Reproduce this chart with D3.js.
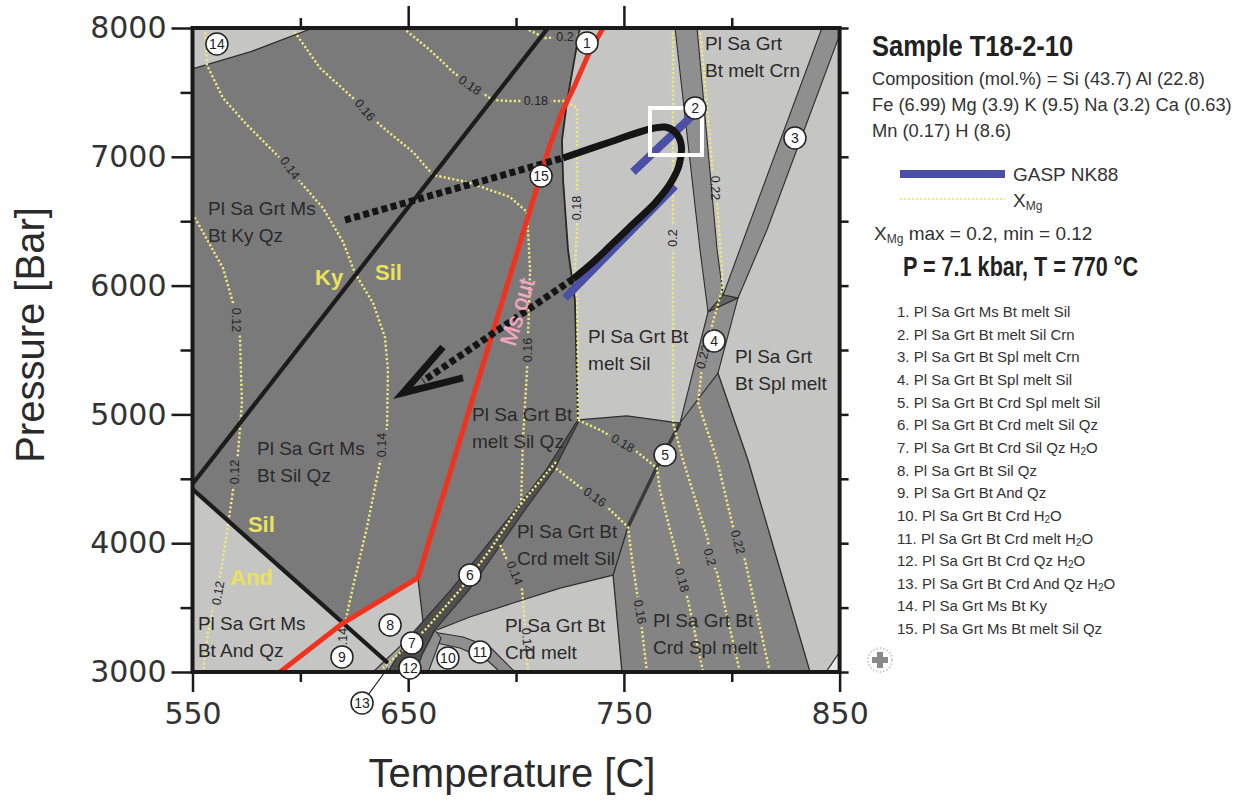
<!DOCTYPE html>
<html>
<head>
<meta charset="utf-8">
<script src="https://cdn.jsdelivr.net/npm/d3@7/dist/d3.min.js"></script>
<style>
  body { margin: 0; background: #fff; }
  svg { display: block; }
</style>
</head>
<body>
<svg id="chart" width="1239" height="805"></svg>
<script>
// ---- axes ----
const tempDomain = [550, 850];
const presDomain = [3000, 8000];
const tempMajor = [550, 650, 750, 850];
const tempMinor = [600, 700, 800];
const presMajor = [3000, 4000, 5000, 6000, 7000, 8000];
const presMinor = [3500, 4500, 5500, 6500, 7500];

// ---- stability fields, [T °C, P bar] ----
const fieldMsBtKyCorner = [[550,8000],[550,7682],[576.7,7814],[605.9,8000]];
const fieldBtMeltSil = [[729.6,8000],[723.6,7425],[721.3,7130],[721.8,6820],[724.1,6276],[727.3,5888],[728.7,4957],[751.4,4988],[776,4933],[789,5795],[785.3,6276],[773.7,8000]];
const fieldBtMeltCrn = [[783.9,8000],[793.2,6276],[796,5927],[807.1,6432],[841.8,8000]];
const fieldBtSplMelt = [[850,7946],[816.3,6432],[802.9,5904],[793.6,5321],[807.5,4646],[836.3,3000],[850,3000]];
const fieldCrdSplMelt = [[776,4933],[793.6,5321],[807.5,4646],[836.3,3000],[749.1,3000],[745,3753],[751.9,4126],[765.3,4592]];
const fieldCornerHighT = [[843.7,3000],[850,3155],[850,3000]];
const fieldMsBtAndQz = [[550,4420],[619.8,3380],[654.5,3730],[656.9,3388],[653.2,3326],[645.3,3132],[640.6,3000],[550,3000]];
const fieldCrdMelt = [[663.3,3326],[678.6,3427],[697.2,3528],[720.4,3652],[745,3753],[749.1,3000],[699.5,3000],[687.9,3194],[675.4,3272],[661.5,3311]];
const fieldCrdH2O = [[665.2,3264],[674,3186],[686.5,3093],[692.6,3000],[659.3,3000]];

// narrow fields
const band2 = [[773.7,8000],[783.9,8000],[793.2,6276],[796,5927],[789,5795],[785.3,6276]];
const band3 = [[841.8,8000],[850,8000],[850,7946],[816.3,6432],[802.9,5904],[796,5927],[807.1,6432]];
const bandJunction = [[789,5795],[796,5927],[802.9,5904]];
const band4 = [[789,5795],[802.9,5904],[793.6,5321],[776,4933]];
const band6 = [[728.3,4949],[713.9,4568],[699.5,4258],[684.7,3947],[669.8,3637],[653.2,3326],[645.3,3132],[640.6,3000],
               [653.6,3000],[656.4,3132],[662.4,3326],[678.2,3637],[691.2,3947],[704.1,4258],[717.6,4568],[729.2,4949]];
const band11 = [[661.5,3311],[675.4,3272],[687.9,3194],[699.5,3000],[692.6,3000],[686.5,3093],[674,3186],[661,3233]];
const band12 = [[662.4,3326],[665.2,3264],[659.3,3000],[653.6,3000],[656.4,3132]];
const band13 = [[633.7,3000],[650.8,3272],[645.3,3132],[640.6,3000]];

// field boundaries
const edgeKyCorner = [[550,7682],[576.7,7814],[605.9,8000]];
const edgeMeltSilWest = [[729.6,8000],[723.6,7425],[721.3,7130],[721.8,6820],[724.1,6276],[727.3,5888],[728.7,4957]];
const edgeMeltSilBase = [[728.7,4957],[751.4,4988],[776,4933]];
const edgeSplCrd = [[793.6,5321],[807.5,4646],[836.3,3000]];
const edgeBand5 = [[776,4933],[765.3,4592],[751.9,4126]];
const edgeCrdSplWest = [[751.9,4126],[745,3753],[749.1,3000]];
const edgeCrdMeltTop = [[663.3,3326],[678.6,3427],[697.2,3528],[720.4,3652],[745,3753]];
const edgeField8 = [[654.5,3730],[656.9,3388]];
const edgeCorner = [[843.7,3000],[850,3155]];

// aluminosilicate reactions and muscovite-out
const kySil = [[550,4460],[714.8,8000]];
const andSil = [[550,4420],[640.6,3070]];
const msOut = [[590.6,3000],[619.8,3380],[654.5,3730],[715.7,7092],[721.3,7348],[727.3,7557],[733.4,7790],[740.3,8000]];

// GASP (NK88) barometer
const gaspUpper = [[754.2,6882],[783,7340]];
const gaspLower = [[722.7,5904],[773.7,6773]];

// P–T path
const pathPrograde = [[620.7,6509],[721.8,6991]];
const pathPeak = [[721.8,6991],[743.6,7115],[762.1,7216],[769.1,7231],[773.7,7193],[776.5,7100],[775.6,6936],[771.4,6789],[764.4,6641],[754.2,6478],[743.6,6307],[734.3,6160],[726.4,6051]];
const pathRetrograde = [[726.4,6051],[656.9,5259]];
const pathArrow = [[666.1,5523],[647.6,5166],[675.4,5283]];
const peakBox = [[762.1,7379],[786.2,7014]];

// garnet XMg isopleths
const iso012 = [[550,6560],[564.1,6137],[568.8,5865],[572,5601],[572.9,5089],[571.1,4700],[568.8,4413],[564.1,3870],[557.2,3303],[554.9,3000]];
const iso014 = [[555.8,8000],[556.7,7713],[564.1,7457],[575.3,7247],[589.2,7014],[601.2,6781],[610.5,6602],[619.8,6339],[625.3,6098],[633.7,5865],[639.2,5601],[640.6,5345],[640.2,4902],[636.9,4623],[630.9,4126],[624.4,3660],[620.7,3380],[618.4,3000]];
const iso016 = [[596.1,8000],[609.1,7689],[624.4,7457],[636.9,7247],[652.2,7037],[661.5,6859],[677.3,6804],[697.2,6688],[705.1,6571],[706.5,6121],[705.5,5578],[705.1,5345],[703.2,4801],[702.3,4297]];
const iso016Crd = [[718.5,4580],[729.6,4436],[742.2,4281],[751.9,4126],[753.8,3870],[756.1,3613],[758.4,3326],[760.7,3000]];
const isoBand6 = [[718.5,4630],[701.8,4297],[687.9,3947],[674,3637],[657.8,3326],[638.3,3031]];
const iso014Crd = [[692.6,3986],[695.8,3870],[702.8,3637],[704.1,3365],[705.5,3000]];
const iso018 = [[647.6,8000],[660.1,7829],[670.8,7658],[678.6,7557],[689.3,7441],[697.2,7433],[709.2,7433],[722.7,7433],[728.3,7379],[728.3,6602],[728.3,6447],[727.3,6106],[728.3,5989],[728.7,4957]];
const iso018Low = [[728.7,4957],[738.9,4879],[749.6,4778],[756.1,4708],[765.3,4584],[766.7,4413],[771.4,4103],[776,3815],[777,3714],[779.7,3559],[786.7,3000]];
const iso020Top = [[704.1,8000],[713.4,7922],[722.7,7930],[732,7961]];
const iso020 = [[772.8,8000],[772.8,6370],[772.8,4933],[777.4,4646],[789,4025],[789.9,3893],[793.2,3769],[803.8,3000]];
const iso022 = [[785.3,8000],[791.3,6859],[792.2,6758],[793.2,6649],[795.5,6106],[795.5,5966],[786.7,5446],[784.4,5089],[793.2,4646],[800.6,4126],[802.9,4009],[806.1,3870],[817.7,3000]];

const isoLabels = [
  [570.2,5733,"0.12"],[569.7,4553,"0.12"],[561.8,3613,"0.12"],
  [595.2,6913,"0.14"],[637.7,4762,"0.14"],[619.4,3248,"0.14"],
  [630.0,7363,"0.16"],[705.5,5500,"0.16"],[736.6,4359,"0.16"],[757.5,3466,"0.16"],
  [699.5,3769,"0.14"],[705.1,3248,"0.14"],
  [678.6,7557,"0.18"],[709.2,7433,"0.18"],[728.3,6602,"0.18"],[749.6,4778,"0.18"],[777.0,3714,"0.18"],
  [722.7,7930,"0.2"],[772.8,6370,"0.2"],[789.9,3893,"0.2"],
  [792.2,6758,"0.22"],[786.7,5446,"0.22"],[802.9,4009,"0.22"]
];

// assemblage labels: first line, second line, T, P
const fieldNames = [
  ["Pl Sa Grt Ms","Bt Ky Qz",557.2,6548],
  ["Pl Sa Grt Ms","Bt Sil Qz",579.9,4685],
  ["Pl Sa Grt Ms","Bt And Qz",552.5,3326],
  ["Pl Sa Grt Bt","melt Sil Qz",679.6,4949],
  ["Pl Sa Grt Bt","melt Sil",733.4,5554],
  ["Pl Sa Grt","Bt melt Crn",787.6,7829],
  ["Pl Sa Grt","Bt Spl melt",801.5,5399],
  ["Pl Sa Grt Bt","Crd melt Sil",700.4,4040],
  ["Pl Sa Grt Bt","Crd melt",694.9,3311],
  ["Pl Sa Grt Bt","Crd Spl melt",763.5,3349]
];
const polymorphNames = [["Ky",606.8,6005],["Sil",634.6,6043],["Sil",575.7,4087],["And",567.4,3675]];
const msOutName = [700.5,5795,"Ms out"];

// numbered small fields
const smallFields = [[1,732.9,7884],[2,783,7379],[3,829.3,7146],[4,791.8,5570],[5,769.1,4685],[6,678.6,3753],[7,651.7,3225],[8,641.6,3365],[9,619.3,3117],[10,668.4,3109],[11,683.3,3155],[12,650.8,3031],[13,628.6,2759],[14,561.3,7876],[15,711.6,6851]];
const leader13 = [[628.6,2759],[640.6,3031]];

const assemblageList = [
  "Pl Sa Grt Ms Bt melt Sil",
  "Pl Sa Grt Bt melt Sil Crn",
  "Pl Sa Grt Bt Spl melt Crn",
  "Pl Sa Grt Bt Spl melt Sil",
  "Pl Sa Grt Bt Crd Spl melt Sil",
  "Pl Sa Grt Bt Crd melt Sil Qz",
  "Pl Sa Grt Bt Crd Sil Qz H2O",
  "Pl Sa Grt Bt Sil Qz",
  "Pl Sa Grt Bt And Qz",
  "Pl Sa Grt Bt Crd H2O",
  "Pl Sa Grt Bt Crd melt H2O",
  "Pl Sa Grt Bt Crd Qz H2O",
  "Pl Sa Grt Bt Crd And Qz H2O",
  "Pl Sa Grt Ms Bt Ky",
  "Pl Sa Grt Ms Bt melt Sil Qz"
];
const compositionLines = [
  "Composition (mol.%) = Si (43.7) Al (22.8)",
  "Fe (6.99) Mg (3.9) K (9.5) Na (3.2) Ca (0.63)",
  "Mn (0.17) H (8.6)"
];

// ---- drawing ----
const svg = d3.select("#chart");
const x = d3.scaleLinear().domain(tempDomain).range([192.5, 839.6]);
const y = d3.scaleLinear().domain(presDomain).range([672, 28]);
const line = d3.line().x(d => x(d[0])).y(d => y(d[1]));
const poly = pts => line(pts) + "Z";

const DARK = "#7a7a7a", LIGHT = "#c5c5c3", BAND = "#8f8f8f", DEEP = "#4f4f4f", CRDSPL = "#848484";
const YELLOW = "#f1e97e", EDGE = "#2e2e2e";
const SANS = "'Liberation Sans', Arial, sans-serif";

const defs = svg.append("defs");
defs.append("clipPath").attr("id", "plotClip")
  .append("rect")
  .attr("x", x(550)).attr("y", y(8000))
  .attr("width", x(850) - x(550)).attr("height", y(3000) - y(8000));
// isopleth lines are cut where their value labels sit
const isoMask = defs.append("mask").attr("id", "isoMask")
  .attr("maskUnits", "userSpaceOnUse").attr("x", 0).attr("y", 0)
  .attr("width", 1239).attr("height", 805);
isoMask.append("rect").attr("width", 1239).attr("height", 805).attr("fill", "#fff");

const plot = svg.append("g").attr("clip-path", "url(#plotClip)");

plot.append("rect")
  .attr("x", x(550)).attr("y", y(8000))
  .attr("width", x(850) - x(550)).attr("height", y(3000) - y(8000))
  .attr("fill", DARK);

const fills = [
  [fieldMsBtKyCorner, LIGHT], [fieldBtMeltSil, LIGHT], [fieldBtMeltCrn, LIGHT],
  [fieldBtSplMelt, LIGHT], [fieldCrdSplMelt, CRDSPL], [fieldCornerHighT, "#e6e6e6"],
  [fieldMsBtAndQz, LIGHT], [fieldCrdMelt, LIGHT], [fieldCrdH2O, LIGHT]
];
plot.selectAll("path.field").data(fills).join("path")
  .attr("class", "field").attr("d", d => poly(d[0])).attr("fill", d => d[1]);

const bands = [
  [band2, BAND], [band3, BAND], [bandJunction, "#626262"], [band4, BAND],
  [band6, DEEP], [band11, BAND], [band12, BAND], [band13, "#9f9f9f"]
];
plot.selectAll("path.band").data(bands).join("path")
  .attr("class", "band").attr("d", d => poly(d[0])).attr("fill", d => d[1])
  .attr("stroke", EDGE).attr("stroke-width", 1.1).attr("stroke-linejoin", "round");

const edges = [edgeKyCorner, edgeMeltSilBase, edgeSplCrd, edgeCrdSplWest, edgeCrdMeltTop, edgeField8, edgeCorner];
plot.selectAll("path.edge").data(edges).join("path")
  .attr("class", "edge").attr("d", line).attr("fill", "none")
  .attr("stroke", EDGE).attr("stroke-width", 1.3);
plot.append("path").attr("d", line(edgeMeltSilWest)).attr("fill", "none")
  .attr("stroke", "#262626").attr("stroke-width", 1.8);
plot.append("path").attr("d", line(edgeBand5)).attr("fill", "none")
  .attr("stroke", "#3a3a3a").attr("stroke-width", 3.5);

// isopleths
const isos = [iso012, iso014, iso016, iso016Crd, isoBand6, iso014Crd, iso018, iso018Low, iso020Top, iso020, iso022];
plot.append("g").attr("mask", "url(#isoMask)")
  .selectAll("path.iso").data(isos).join("path")
  .attr("class", "iso").attr("d", line).attr("fill", "none")
  .attr("stroke", YELLOW).attr("stroke-width", 2.4).attr("stroke-dasharray", "2.2,2.2");

const labelTilt = [90,-90,-80, 55,-90,-90, 50,-90,35,80, 68,85, 35,0,-90,30,75, 0,-90,75, 90,-75,75];
const isoText = plot.selectAll("text.iso").data(isoLabels).join("text")
  .attr("class", "iso")
  .attr("transform", (d, i) => `translate(${x(d[0])},${y(d[1])}) rotate(${labelTilt[i]})`)
  .attr("text-anchor", "middle").attr("dy", "0.35em")
  .attr("font-family", SANS).attr("font-size", 12.5).attr("fill", "#242424")
  .text(d => d[2]);
isoText.each(function() {
  const b = this.getBBox();
  isoMask.append("rect")
    .attr("x", b.x - 3).attr("y", b.y - 1).attr("width", b.width + 6).attr("height", b.height + 2)
    .attr("transform", d3.select(this).attr("transform")).attr("fill", "#000");
});

// reaction lines
plot.append("path").attr("d", line(kySil)).attr("fill", "none").attr("stroke", "#1c1c1c").attr("stroke-width", 4.2);
plot.append("path").attr("d", line(andSil)).attr("fill", "none").attr("stroke", "#1c1c1c").attr("stroke-width", 4.2);
plot.append("path").attr("d", line(msOut)).attr("fill", "none").attr("stroke", "#f0321f")
  .attr("stroke-width", 5).attr("stroke-linejoin", "round");

// GASP
[gaspUpper, gaspLower].forEach(g => plot.append("path").attr("d", line(g))
  .attr("fill", "none").attr("stroke", "#4b4fa6").attr("stroke-width", 8));

// P–T path
plot.append("path").attr("d", line(pathPrograde)).attr("fill", "none")
  .attr("stroke", "#151515").attr("stroke-width", 7).attr("stroke-dasharray", "6,3.5");
plot.append("path").attr("d", d3.line().x(d => x(d[0])).y(d => y(d[1])).curve(d3.curveCatmullRom)(pathPeak))
  .attr("fill", "none").attr("stroke", "#151515").attr("stroke-width", 7).attr("stroke-linejoin", "round");
plot.append("path").attr("d", line(pathRetrograde)).attr("fill", "none")
  .attr("stroke", "#151515").attr("stroke-width", 7).attr("stroke-dasharray", "6,3.5");
plot.append("path").attr("d", line(pathArrow)).attr("fill", "none")
  .attr("stroke", "#151515").attr("stroke-width", 7).attr("stroke-linejoin", "miter");

plot.append("rect")
  .attr("x", x(peakBox[0][0])).attr("y", y(peakBox[0][1]))
  .attr("width", x(peakBox[1][0]) - x(peakBox[0][0]))
  .attr("height", y(peakBox[1][1]) - y(peakBox[0][1]))
  .attr("fill", "none").attr("stroke", "#ffffff").attr("stroke-width", 4);

// assemblage labels
const fl = plot.selectAll("text.fname").data(fieldNames).join("text")
  .attr("class", "fname")
  .attr("x", d => x(d[2])).attr("y", d => y(d[3]))
  .attr("font-family", SANS).attr("font-size", 19).attr("fill", "#2a2a2a");
fl.append("tspan").text(d => d[0]);
fl.append("tspan").attr("x", d => x(d[2])).attr("dy", 27).text(d => d[1]);

plot.selectAll("text.poly").data(polymorphNames).join("text")
  .attr("class", "poly").attr("x", d => x(d[1])).attr("y", d => y(d[2]))
  .attr("font-family", SANS).attr("font-weight", "bold").attr("font-size", 22)
  .attr("fill", "#e9e35c").text(d => d[0]);

plot.append("text")
  .attr("transform", `translate(${x(msOutName[0])},${y(msOutName[1])}) rotate(-73)`)
  .attr("text-anchor", "middle").attr("dy", "0.35em")
  .attr("font-family", SANS).attr("font-size", 23).attr("fill", "#f6b0c5")
  .attr("stroke", "#e79ab0").attr("stroke-width", 0.6)
  .text(msOutName[2]);

// frame
svg.append("rect")
  .attr("x", x(550)).attr("y", y(8000))
  .attr("width", x(850) - x(550)).attr("height", y(3000) - y(8000))
  .attr("fill", "none").attr("stroke", "#1a1a1a").attr("stroke-width", 4);

// axes
function styleAxis(g) {
  g.select(".domain").remove();
  g.selectAll(".tick line").attr("stroke", "#1a1a1a").attr("stroke-width", 2.5);
  g.selectAll(".tick text").attr("font-family", "'DejaVu Sans', sans-serif")
    .attr("font-size", 30).attr("fill", "#333");
}
svg.append("g").attr("transform", `translate(${x(550)},0)`)
  .call(d3.axisLeft(y).tickValues(presMajor).tickSize(21).tickPadding(5).tickFormat(d3.format("d")))
  .call(styleAxis);
svg.append("g").attr("transform", `translate(${x(550)},0)`)
  .call(d3.axisLeft(y).tickValues(presMinor).tickSize(12).tickFormat(""))
  .call(styleAxis);
svg.append("g").attr("transform", `translate(0,${y(3000)})`)
  .call(d3.axisBottom(x).tickValues(tempMajor).tickSize(20).tickPadding(11).tickFormat(d3.format("d")))
  .call(styleAxis);
svg.append("g").attr("transform", `translate(0,${y(3000)})`)
  .call(d3.axisBottom(x).tickValues(tempMinor).tickSize(10).tickFormat(""))
  .call(styleAxis);
svg.append("g").attr("transform", `translate(0,${y(8000)})`)
  .call(d3.axisTop(x).tickValues([650, 750]).tickSize(22).tickFormat(""))
  .call(styleAxis);
svg.append("g").attr("transform", `translate(0,${y(8000)})`)
  .call(d3.axisTop(x).tickValues(tempMinor).tickSize(10).tickFormat(""))
  .call(styleAxis);
svg.append("g").attr("transform", `translate(${x(850)},0)`)
  .call(d3.axisRight(y).tickValues(presMajor.concat(presMinor)).tickSize(9).tickFormat(""))
  .call(styleAxis);

svg.append("text").attr("transform", "translate(44,335) rotate(-90)")
  .attr("text-anchor", "middle").attr("font-family", SANS).attr("font-size", 40)
  .attr("fill", "#2a2a2a").text("Pressure [Bar]");
svg.append("text").attr("x", 512).attr("y", 787)
  .attr("text-anchor", "middle").attr("font-family", SANS).attr("font-size", 40)
  .attr("fill", "#2a2a2a").text("Temperature [C]");

// numbered circles
const marks = svg.append("g");
marks.append("path").attr("d", line(leader13)).attr("stroke", "#222").attr("stroke-width", 1.2);
const mk = marks.selectAll("g.mk").data(smallFields).join("g")
  .attr("class", "mk").attr("transform", d => `translate(${x(d[1])},${y(d[2])})`);
mk.append("circle").attr("r", 11).attr("fill", "#fff").attr("stroke", "#222").attr("stroke-width", 1.5);
mk.append("text").attr("text-anchor", "middle").attr("dy", "0.36em")
  .attr("font-family", SANS).attr("font-size", 14).attr("fill", "#222").text(d => d[0]);

// side panel
const side = svg.append("g").attr("font-family", SANS).attr("fill", "#333");
side.append("text").attr("transform", "translate(872,56) scale(0.85,1)")
  .attr("font-weight", "bold").attr("font-size", 30).attr("fill", "#222").text("Sample T18-2-10");
side.selectAll("text.comp").data(compositionLines).join("text")
  .attr("class", "comp").attr("x", 872).attr("y", (d, i) => 85 + i * 26)
  .attr("font-size", 18.3).text(d => d);

side.append("line").attr("x1", 900).attr("x2", 1005).attr("y1", 174).attr("y2", 174)
  .attr("stroke", "#4b4fa6").attr("stroke-width", 8);
side.append("text").attr("x", 1013).attr("y", 181).attr("font-size", 19).text("GASP NK88");
side.append("line").attr("x1", 900).attr("x2", 1005).attr("y1", 199).attr("y2", 199)
  .attr("stroke", YELLOW).attr("stroke-width", 2).attr("stroke-dasharray", "2,2");
const xm = side.append("text").attr("x", 1013).attr("y", 207).attr("font-size", 19);
xm.append("tspan").text("X");
xm.append("tspan").attr("font-size", 12).attr("dy", 3).text("Mg");

const xr = side.append("text").attr("x", 874).attr("y", 240).attr("font-size", 19);
xr.append("tspan").text("X");
xr.append("tspan").attr("font-size", 12).attr("dy", 3).text("Mg");
xr.append("tspan").attr("dy", -3).text(" max = 0.2, min = 0.12");

side.append("text").attr("transform", "translate(903,276) scale(0.8,1)")
  .attr("font-weight", "bold").attr("font-size", 27).attr("fill", "#222")
  .text("P = 7.1 kbar, T = 770 °C");

const li = side.selectAll("text.asm").data(assemblageList).join("text")
  .attr("class", "asm").attr("x", 897).attr("y", (d, i) => 317 + i * 22.65)
  .attr("font-size", 15);
li.each(function(d, i) {
  const t = d3.select(this);
  const label = (i + 1) + ". " + d;
  if (label.endsWith("H2O")) {
    t.append("tspan").text(label.slice(0, -3) + "H");
    t.append("tspan").attr("font-size", 10).attr("dy", 2).text("2");
    t.append("tspan").attr("dy", -2).text("O");
  } else {
    t.text(label);
  }
});

// small emblem
const em = svg.append("g").attr("transform", "translate(880,660)");
em.append("circle").attr("r", 12).attr("fill", "none").attr("stroke", "#c8c8c8")
  .attr("stroke-width", 2).attr("stroke-dasharray", "1.5,2");
em.append("path").attr("d", "M-3,-8H3V-3H8V3H3V8H-3V3H-8V-3H-3Z").attr("fill", "#8a8a8a");
</script>
</body>
</html>
